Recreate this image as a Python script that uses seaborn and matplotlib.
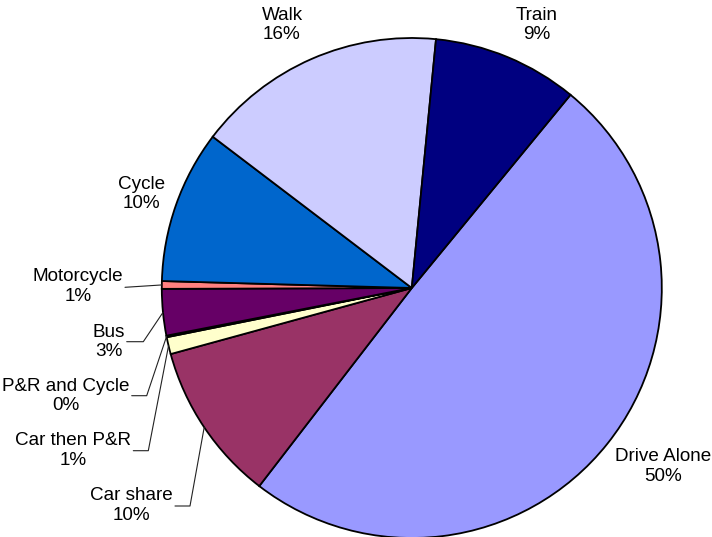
"""
Commute mode share pie chart (Excel-style).
"""

import numpy as np
import matplotlib
matplotlib.use("Agg")
import matplotlib.pyplot as plt
import seaborn as sns

# data, in Excel series order (clockwise)
modes = ["Drive Alone", "Car share", "Car then P&R", "P&R and Cycle", "Bus",
         "Motorcycle", "Cycle", "Walk", "Train"]
shares = [49.5, 10.3, 1.1, 0.1, 3.0, 0.5, 9.9, 16.2, 9.4]
colors = ["#9999FF", "#993366", "#FFFFCC", "#CCFFFF", "#660066",
          "#FF8080", "#0066CC", "#CCCCFF", "#000080"]

# label layout (pixel coords of text centre) and leader-line elbows
label_pos = {
    "Drive Alone": (663.5, 466.7),
    "Car share": (131, 505.3),
    "Car then P&R": (73.3, 450.5),
    "P&R and Cycle": (66, 396),
    "Bus": (109, 342),
    "Motorcycle": (78, 286.7),
    "Cycle": (141.5, 194),
    "Walk": (282, 25),
    "Train": (537, 25),
}
leaders = {
    "Car share": [(175, 506), (190, 506)],
    "Car then P&R": [(133.3, 450.7), (148.3, 450.7)],
    "P&R and Cycle": [(131.7, 395.7), (146.7, 395.7)],
    "Bus": [(126.7, 341.7), (143.3, 341.7)],
    "Motorcycle": [(125, 287.3)],
}

W, H = 712, 537
CX, CY, R = 411.8, 288.0, 250.0


def to_data(px, py):
    return (px - CX) / R, (CY - py) / R


sns.set_theme(style="white")
plt.rcParams["font.family"] = ["Liberation Sans", "DejaVu Sans"]

fig = plt.figure(figsize=(W / 100, H / 100), dpi=100)
ax = fig.add_axes([0, 0, 1, 1])

wedges, _ = ax.pie(
    shares,
    colors=colors,
    startangle=90 - 39.4,
    counterclock=False,
    radius=1.0,
    wedgeprops={"edgecolor": "black", "linewidth": 1.3},
)

for w, name, val in zip(wedges, modes, shares):
    tx, ty = to_data(*label_pos[name])
    ax.text(tx, ty, f"{name}\n{int(val + 0.5)}%", ha="center", va="center",
            fontsize=13.6, linespacing=1.2, color="black")
    if name in leaders:
        mid = np.deg2rad((w.theta1 + w.theta2) / 2)
        pts = [to_data(*p) for p in leaders[name]] + [(np.cos(mid), np.sin(mid))]
        xs, ys = zip(*pts)
        ax.plot(xs, ys, color="#222222", linewidth=0.8)

ax.set_xlim(-CX / R, (W - CX) / R)
ax.set_ylim(-(H - CY) / R, CY / R)
ax.set_aspect("equal")
ax.axis("off")

fig.savefig("out.png", dpi=100)
plt.close(fig)
